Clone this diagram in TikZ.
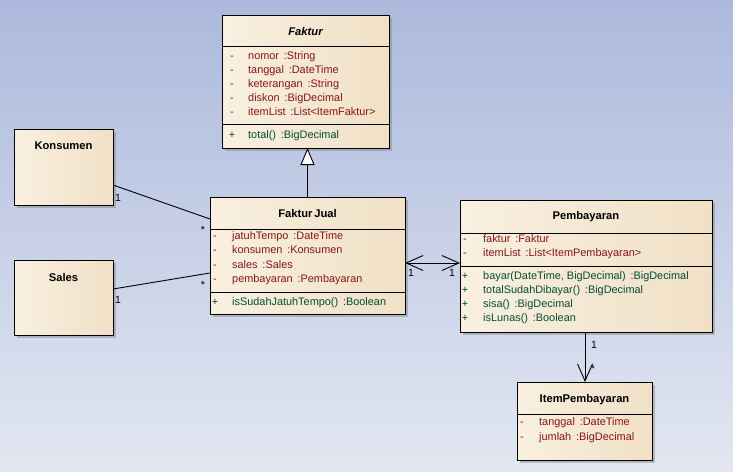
\documentclass[tikz,border=0pt]{standalone}
\usepackage{fontspec}
\setmainfont{Liberation Sans}
\usetikzlibrary{arrows.meta,shadows}
\definecolor{bgtop}{RGB}{172,185,221}
\definecolor{bgbot}{RGB}{226,231,241}
\definecolor{boxL}{RGB}{249,240,224}
\definecolor{boxR}{RGB}{240,224,198}
\definecolor{attrc}{RGB}{135,20,20}
\definecolor{methc}{RGB}{0,78,50}
\newcommand\uattr[5]{\node[dashtxt,text=attrc] (#1d) at (#2,#4) {-}; \node[txt,text=attrc] (#1) at (#3,#4) {#5};}
\newcommand\umeth[5]{\node[dashtxt,text=methc] (#1d) at (#2,#4) {+}; \node[txt,text=methc] (#1) at (#3,#4) {#5};}
\newcommand\gp{\ \,}
\begin{document}
\begin{tikzpicture}[x={(1pt,0pt)},y={(0pt,-1pt)},
  classbox/.style={draw=black, line width=0.9pt, left color=boxL, right color=boxR,
    anchor=north west, inner sep=0pt, outer sep=0pt,
    general shadow={fill=black!50, opacity=0.45, shadow xshift=3pt, shadow yshift=-3pt}},
  sep/.style={draw=black, line width=0.9pt},
  txt/.style={anchor=west, inner sep=0pt, text height=7.8pt, text depth=2.3pt, font=\fontsize{10.9}{12}\selectfont},
  dashtxt/.style={anchor=center, inner sep=0pt, text height=7.8pt, text depth=2.3pt, font=\fontsize{10.9}{12}\selectfont},
  ctitle/.style={anchor=center, inner sep=0pt, font=\bfseries\fontsize{11.2}{13}\selectfont},
  conn/.style={draw=black, line width=0.9pt},
  mult/.style={anchor=center, inner sep=0pt, font=\fontsize{10.5}{12}\selectfont}
]
\useasboundingbox (0,0) rectangle (733,471);
\shade[top color=bgtop, bottom color=bgbot] (0,0) rectangle (733,471);

% Faktur
\node[classbox, minimum width=167pt, minimum height=133pt] (faktur) at (222,15) {};
\node[ctitle, font=\bfseries\itshape\fontsize{11.2}{13}\selectfont] (fakturt) at (305.5,31) {Faktur};
\draw[sep] (faktur.west |- 0,46) -- (faktur.east |- 0,46);
\draw[sep] (faktur.west |- 0,124) -- (faktur.east |- 0,124);
\uattr{fa1}{232}{248}{57}{nomor\gp:String}
\uattr{fa2}{232}{248}{71}{tanggal\gp:DateTime}
\uattr{fa3}{232}{248}{85}{keterangan\gp:String}
\uattr{fa4}{232}{248}{99}{diskon\gp:BigDecimal}
\uattr{fa5}{232}{248}{113}{itemList\gp:List<ItemFaktur>}
\umeth{fm1}{232}{248}{136}{total()\gp:BigDecimal}

% FakturJual
\node[classbox, minimum width=195pt, minimum height=117pt] (fj) at (210,197) {};
\node[ctitle] (fjt) at (307.5,213) {Faktur\,Jual};
\draw[sep] (fj.west |- 0,229) -- (fj.east |- 0,229);
\draw[sep] (fj.west |- 0,292) -- (fj.east |- 0,292);
\uattr{ja1}{215}{232}{237}{jatuhTempo\gp:DateTime}
\uattr{ja2}{215}{232}{251}{konsumen\gp:Konsumen}
\uattr{ja3}{215}{232}{266}{sales\gp:Sales}
\uattr{ja4}{215}{232}{280}{pembayaran\gp:Pembayaran}
\umeth{jm1}{215}{232}{303}{isSudahJatuhTempo()\gp:Boolean}

% Pembayaran
\node[classbox, minimum width=252pt, minimum height=132pt] (pb) at (460,200) {};
\node[ctitle] (pbt) at (586,217) {Pembayaran};
\draw[sep] (pb.west |- 0,233) -- (pb.east |- 0,233);
\draw[sep] (pb.west |- 0,266) -- (pb.east |- 0,266);
\uattr{pa1}{465}{483}{240}{faktur\gp:Faktur}
\uattr{pa2}{465}{483}{254}{itemList\gp:List<ItemPembayaran>}
\umeth{pm1}{465}{483}{277}{bayar(DateTime, BigDecimal)\gp:BigDecimal}
\umeth{pm2}{465}{483}{291}{totalSudahDibayar()\gp:BigDecimal}
\umeth{pm3}{465}{483}{305}{sisa()\gp:BigDecimal}
\umeth{pm4}{465}{483}{319}{isLunas()\gp:Boolean}

% ItemPembayaran
\node[classbox, minimum width=135pt, minimum height=78pt] (ip) at (517,382) {};
\node[ctitle] (ipt) at (584.5,400) {ItemPembayaran};
\draw[sep] (ip.west |- 0,414) -- (ip.east |- 0,414);
\uattr{ia1}{522}{539}{423}{tanggal\gp:DateTime}
\uattr{ia2}{522}{539}{438}{jumlah\gp:BigDecimal}

% Konsumen, Sales
\node[classbox, minimum width=99pt, minimum height=76pt] (ko) at (14,129) {};
\node[ctitle] (kot) at (63.5,146) {Konsumen};
\node[classbox, minimum width=99pt, minimum height=75pt] (sa) at (14,260) {};
\node[ctitle] (sat) at (63.5,277) {Sales};

% connectors
\draw[conn] (ko.east |- 0,185) -- (fj.west |- 0,219);
\draw[conn] (sa.east |- 0,289) -- (fj.west |- 0,273);
\draw[conn, -{Triangle[length=17pt,width=14pt,fill=white,line width=0.9pt]}] (fj.north) -- (faktur.south -| fj.north);
\draw[conn, {Straight Barb[length=17pt,width=15pt,line width=0.9pt]}-{Straight Barb[length=17pt,width=15pt,line width=0.9pt]}] (fj.east |- 0,263) -- (pb.west |- 0,263);
\draw[conn, -{Straight Barb[length=17pt,width=15pt,line width=0.9pt]}] (pb.south -| 585,0) -- (ip.north -| 585,0);

% multiplicities
\node[mult] (mk1) at (118,198) {1};
\node[mult] (mk2) at (203,230) {*};
\node[mult] (ms1) at (118,300) {1};
\node[mult] (ms2) at (203,285) {*};
\node[mult] (ma1) at (411,273) {1};
\node[mult] (ma2) at (452,273) {1};
\node[mult] (mp1) at (594,345) {1};
\node[mult] (mp2) at (593,369) {*};
\end{tikzpicture}
\end{document}
